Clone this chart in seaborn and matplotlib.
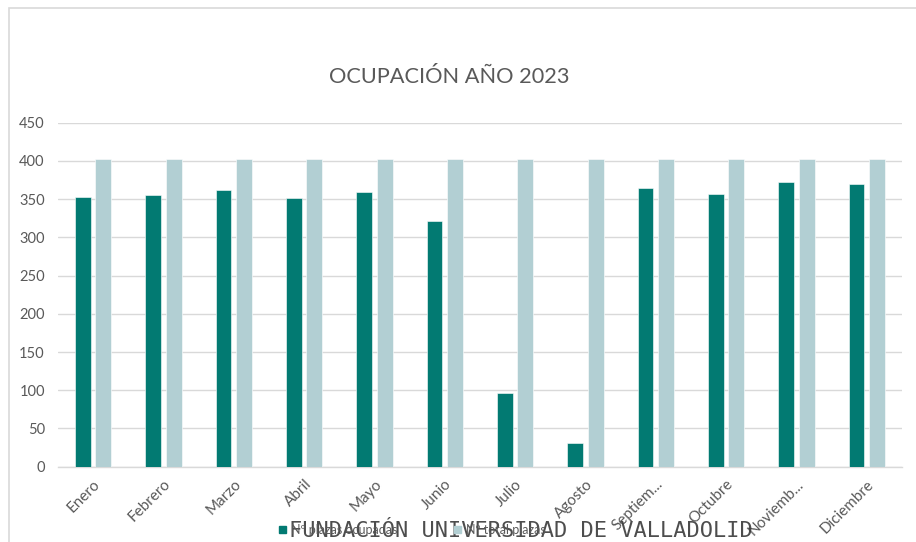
import pandas as pd
import numpy as np
import matplotlib.pyplot as plt
import seaborn as sns
from matplotlib.patches import Rectangle

# Data
meses = ['Enero', 'Febrero', 'Marzo', 'Abril', 'Mayo', 'Junio', 'Julio',
         'Agosto', 'Septiem...', 'Octubre', 'Noviemb...', 'Diciembre']
ocupadas = [353, 356, 362, 352, 360, 321, 96, 31, 364, 357, 372, 370]
totales = [402, 402, 402, 402, 402, 402, 402, 402, 402, 402, 402, 402]
series = ['Nº plazas ocupadas', 'Nº total plazas']
colores = ['#027A72', '#B2CFD3']

df = pd.DataFrame({'Mes': meses, series[0]: ocupadas, series[1]: totales})
long_df = df.melt(id_vars='Mes', var_name='Serie', value_name='Plazas')

sns.set_style('white')
plt.rcParams['font.family'] = ['Lato', 'DejaVu Sans']

fig = plt.figure(figsize=(9.16, 5.42), dpi=100)
ax = fig.add_axes([0.0633, 0.1389, 0.9214, 0.6347])

sns.barplot(data=long_df, x='Mes', y='Plazas', hue='Serie', order=meses,
            hue_order=series, palette=colores, saturation=1, width=0.58, gap=0.23,
            edgecolor='white', linewidth=0.4, ax=ax, zorder=3)

ax.set_ylim(0, 450)
ax.set_yticks(range(0, 451, 50))
ax.set_xlim(-0.5, len(meses) - 0.5)
ax.grid(axis='y', color='#D9D9D9', linewidth=1, zorder=0)
ax.set_axisbelow(True)
for s in ['top', 'right', 'left']:
    ax.spines[s].set_visible(False)
ax.spines['bottom'].set_color('#D9D9D9')
ax.spines['bottom'].set_linewidth(1)
ax.set_xlabel('')
ax.set_ylabel('')
ax.tick_params(axis='y', length=0, pad=9.5, labelsize=10.5, labelcolor='#595959')
ax.tick_params(axis='x', length=0, pad=7.5, labelsize=11, labelcolor='#595959')
for lab in ax.get_xticklabels():
    lab.set_rotation(45)
    lab.set_ha('right')
    lab.set_va('top')
    lab.set_rotation_mode('anchor')

ax.legend_.remove()
handles = [Rectangle((0, 0), 1, 1, color=c) for c in colores]
fig.legend(handles, series, loc='center', bbox_to_anchor=(0.45, 0.022),
           ncol=2, frameon=False, fontsize=9, labelcolor='#595959',
           handlelength=0.55, handleheight=0.55, handletextpad=0.4,
           columnspacing=4.5)

fig.text(0.4907, 0.858, 'OCUPACIÓN AÑO 2023', ha='center', va='center',
         fontsize=15.7, color='#595959')

# chart frame
fig.patches.append(Rectangle((0.0098, -0.1), 1.2, 1.086, transform=fig.transFigure,
                             fill=False, edgecolor='#D9D9D9', linewidth=1.2))

# watermark
fig.text(0.5688, 0.02, 'FUNDACIÓN UNIVERSIDAD DE VALLADOLID', ha='center',
         va='center', fontsize=15.8, family='DejaVu Sans Mono', color='#3A3A3A',
         alpha=0.9)

fig.savefig('out.png', dpi=100)
